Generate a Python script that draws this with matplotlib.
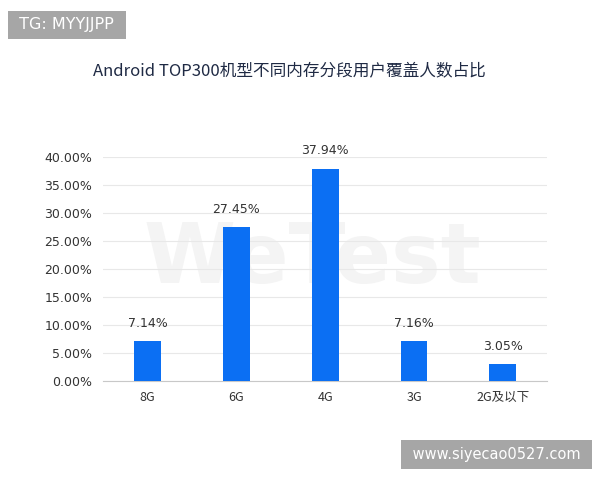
import matplotlib.pyplot as plt
import numpy as np

plt.rcParams['font.family'] = ['Noto Sans CJK SC', 'DejaVu Sans']

# data
categories = ['8G', '6G', '4G', '3G', '2G及以下']
shares = [7.14, 27.45, 37.94, 7.16, 3.05]
yticks = [0, 5, 10, 15, 20, 25, 30, 35, 40]

fig = plt.figure(figsize=(6, 4.8), dpi=100)
ax = fig.add_axes([0.172, 0.206, 0.74, 0.467])

# faint watermark behind the bars
ax.text(0.52, 0.46, 'WeTest', fontsize=60, fontweight='bold', color='#f4f4f4',
        ha='center', va='center', zorder=1, family='DejaVu Sans',
        transform=fig.transFigure)

x = np.arange(len(categories))
ax.bar(x, shares, width=0.3, color='#0b6ff3', zorder=3)
for xi, v in zip(x, shares):
    ax.text(xi, v + 2.0, f'{v:.2f}%', ha='center', va='bottom', fontsize=9,
            color='#333333', family='DejaVu Sans', zorder=4)

ax.set_xlim(-0.5, len(categories) - 0.5)
ax.set_ylim(0, 40)
ax.set_yticks(yticks)
ax.set_yticklabels([f'{t:.2f}%' for t in yticks], family='DejaVu Sans')
ax.set_xticks(x)
ax.set_xticklabels(categories)
ax.tick_params(axis='both', length=0, labelsize=9, colors='#333333')
ax.tick_params(axis='y', pad=8)
ax.tick_params(axis='x', pad=7)
ax.grid(axis='y', color='#e8e8e8', linewidth=0.8, zorder=0)
for s in ['top', 'right', 'left']:
    ax.spines[s].set_visible(False)
ax.spines['bottom'].set_color('#c8c8c8')

fig.text(0.483, 0.852, 'Android TOP300机型不同内存分段用户覆盖人数占比', ha='center',
         va='center', fontsize=12, color='#1f2a44')

# label boxes in the corners
fig.text(0.024, 0.948, ' TG: MYYJJPP ', fontsize=11.5, color='white', va='center',
         ha='left', family='DejaVu Sans',
         bbox=dict(boxstyle='square,pad=0.4', facecolor='#a6a6a6', edgecolor='none'))
fig.text(0.975, 0.053, ' www.siyecao0527.com ', fontsize=10.5, color='white', va='center',
         ha='right', family='DejaVu Sans',
         bbox=dict(boxstyle='square,pad=0.45', facecolor='#a6a6a6', edgecolor='none'))

fig.savefig('out.png', dpi=100)
